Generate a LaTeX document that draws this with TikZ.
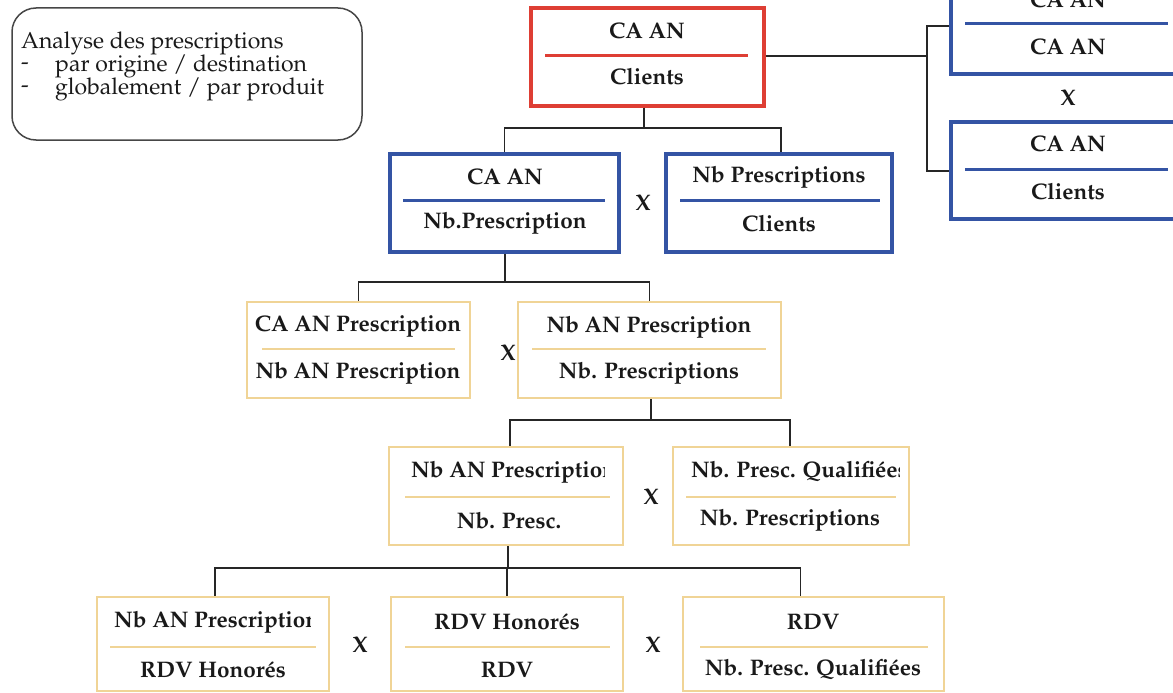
\documentclass[tikz,border=0pt]{standalone}
\usepackage[T1]{fontenc}
\usepackage{mathpazo}
\usetikzlibrary{calc}
\definecolor{redc}{RGB}{222,62,52}
\definecolor{bluec}{RGB}{52,84,164}
\definecolor{yelc}{RGB}{240,212,150}
\definecolor{notec}{RGB}{70,70,70}
\tikzset{
  x=1pt,y=-1pt,
  boxbase/.style={draw,rectangle,inner sep=0pt,fill=white},
  redbox/.style={boxbase,draw=redc,line width=3.2pt},
  bluebox/.style={boxbase,draw=bluec,line width=3.2pt},
  yelbox/.style={boxbase,draw=yelc,line width=2.4pt},
  reddiv/.style={draw=redc,line width=3pt},
  bluediv/.style={draw=bluec,line width=3pt},
  yeldiv/.style={draw=yelc,line width=1.8pt},
  txt/.style={inner sep=0pt,font=\fontsize{22.5}{26}\selectfont\bfseries,text=black!90},
  notetxt/.style={inner sep=0pt,font=\fontsize{23}{26}\selectfont,text=black!90,anchor=west},
  conn/.style={draw=black!85,line width=1.2pt},
  timesx/.style={inner sep=0pt,font=\fontsize{22.5}{26}\selectfont\bfseries,text=black!90}
}
\begin{document}
\begin{tikzpicture}
\useasboundingbox (0,0) rectangle (1173,693);

% note box
\node[draw=notec,line width=1.5pt,rounded corners=24pt,minimum width=350pt,minimum height=132pt,inner sep=0pt] (note) at (187,74) {};
\node[notetxt] (n1) at (21,43) {Analyse des prescriptions};
\node[notetxt] (n2a) at (21,66) {-};
\node[notetxt] (n2) at (55,66) {par origine / destination};
\node[notetxt] (n3a) at (21,89) {-};
\node[notetxt] (n3) at (55,89) {globalement / par produit};

% level 1 (red)
\node[redbox,minimum width=233pt,minimum height=98pt] (r) at (647.5,57) {};
\draw[reddiv] (545,56) -- (748,56);
\node[txt] (rt) at (647,31) {CA AN};
\node[txt] (rb) at (647,77) {Clients};

% right column (blue)
\node[bluebox,minimum width=240pt,minimum height=110pt] (rt1) at (1071,19) {};
\draw[bluediv] (965,24) -- (1168,24);
\node[txt] (rt1a) at (1068,0) {CA AN};
\node[txt] (rt1b) at (1068,47) {CA AN};
\node[timesx] (xr) at (1068,98) {X};
\node[bluebox,minimum width=240pt,minimum height=97pt] (rt2) at (1071,170.5) {};
\draw[bluediv] (965,169) -- (1168,169);
\node[txt] (rt2a) at (1068,144) {CA AN};
\node[txt] (rt2b) at (1068,191) {Clients};

% level 2 (blue)
\node[bluebox,minimum width=229pt,minimum height=98pt] (b1) at (504.5,203) {};
\draw[bluediv] (403,200) -- (605,200);
\node[txt] (b1a) at (505,177) {CA AN};
\node[txt] (b1b) at (505,223) {Nb.Prescription};
\node[timesx] (x2) at (643,203) {X};
\node[bluebox,minimum width=226pt,minimum height=98pt] (b2) at (779,203) {};
\draw[bluediv] (680,200) -- (880,200);
\node[txt] (b2a) at (779,177) {Nb Prescriptions};
\node[txt] (b2b) at (779,223) {Clients};

% level 3 (yellow)
\node[yelbox,minimum width=223pt,minimum height=96pt] (c1) at (358.5,350) {};
\draw[yeldiv] (262,349) -- (455,349);
\node[txt] (c1a) at (358,327) {CA AN Prescription};
\node[txt] (c1b) at (358,373) {Nb AN Prescription};
\node[timesx] (x3) at (508,353) {X};
\node[yelbox,minimum width=263pt,minimum height=96pt] (c2) at (649.5,350) {};
\draw[yeldiv] (532,349) -- (766,349);
\node[txt] (c2a) at (649,327) {Nb AN Prescription};
\node[txt] (c2b) at (649,373) {Nb. Prescriptions};

% level 4 (yellow)
\node[yelbox,minimum width=234pt,minimum height=98pt] (d1) at (506,496) {};
\draw[yeldiv] (405,497) -- (610,497);
\begin{scope}
\clip (d1.south west) rectangle (604,440);
\node[txt,anchor=west] (d1a) at (411,472) {Nb AN Prescription};
\end{scope}
\node[txt] (d1b) at (509,520) {Nb. Presc.};
\node[timesx] (x4) at (651,497) {X};
\node[yelbox,minimum width=236pt,minimum height=98pt] (d2) at (791,496) {};
\draw[yeldiv] (686,497) -- (896,497);
\begin{scope}
\clip (d2.south west) rectangle (899,440);
\node[txt,anchor=west] (d2a) at (691,472) {Nb. Presc. Qualifi\'ees};
\end{scope}
\node[txt] (d2b) at (790,520) {Nb. Prescriptions};

% level 5 (yellow)
\node[yelbox,minimum width=232pt,minimum height=94pt] (e1) at (213,644) {};
\draw[yeldiv] (110,647) -- (316,647);
\begin{scope}
\clip (e1.south west) rectangle (310,590);
\node[txt,anchor=west] (e1a) at (114,622) {Nb AN Prescription};
\end{scope}
\node[txt] (e1b) at (213,670) {RDV Honor\'es};
\node[timesx] (x5a) at (360,645) {X};
\node[yelbox,minimum width=232pt,minimum height=94pt] (e2) at (507,644) {};
\draw[yeldiv] (405,647) -- (610,647);
\node[txt] (e2a) at (507,622) {RDV Honor\'es};
\node[txt] (e2b) at (507,670) {RDV};
\node[timesx] (x5b) at (653,645) {X};
\node[yelbox,minimum width=261pt,minimum height=94pt] (e3) at (813.5,644) {};
\draw[yeldiv] (700,647) -- (928,647);
\node[txt] (e3a) at (813,622) {RDV};
\node[txt] (e3b) at (813,670) {Nb. Presc. Qualifi\'ees};

% connectors
\coordinate (j1) at (644,128);
\draw[conn] (r.south -| j1) -- (j1);
\draw[conn] (b1.north) |- (j1) -| ($(b2.north)+(2,0)$);
\coordinate (j0) at (927,56);
\draw[conn] (r.east |- j0) -- (j0);
\draw[conn] (rt1.west |- 0,26) -| (927,171) -- (rt2.west |- 0,171);
\coordinate (j2) at (505,282);
\draw[conn] (b1.south -| j2) -- (j2);
\draw[conn] (c1.north) |- (j2) -| (c2.north);
\coordinate (j3) at (651,420);
\draw[conn] (c2.south -| j3) -- (j3);
\draw[conn] ($(d1.north)+(4,0)$) |- (j3) -| ($(d2.north)+(-1,0)$);
\coordinate (j4) at (508,568);
\draw[conn] (d1.south -| j4) -- (j4);
\draw[conn] ($(e1.north)+(2,0)$) |- (j4) -- (e2.north |- j4) -- (e2.north);
\draw[conn] (j4) -| ($(e3.north)+(-13,0)$);
\end{tikzpicture}
\end{document}
